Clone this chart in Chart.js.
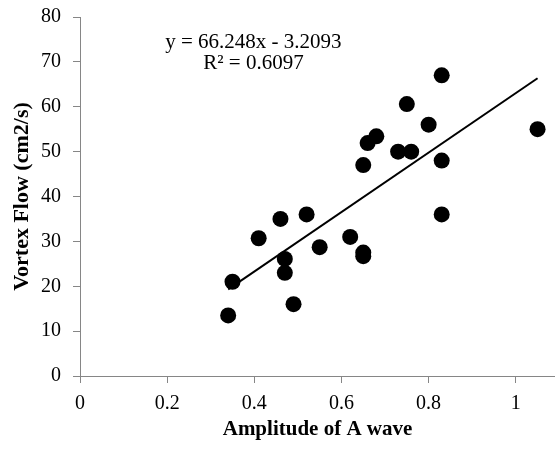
<!DOCTYPE html>
<html>
<head>
<meta charset="utf-8">
<script src="https://cdn.jsdelivr.net/npm/chart.js@4/dist/chart.umd.min.js"></script>
<style>
    html, body { margin: 0; padding: 0; background: #fff; }
</style>
</head>
<body>
<canvas id="vortexChart" width="555" height="449"></canvas>
<script>
// Data
const amplitudeA = [0.34, 0.35, 0.41, 0.46, 0.47, 0.47, 0.49, 0.52, 0.55, 0.62, 0.65, 0.65,
                    0.65, 0.66, 0.68, 0.73, 0.76, 0.75, 0.80, 0.83, 0.83, 0.83, 1.05];
const vortexFlow = [13.5, 21.0, 30.7, 35.0, 26.1, 23.0, 16.0, 36.0, 28.7, 31.0, 27.5, 26.7,
                    47.0, 51.9, 53.4, 50.0, 50.0, 60.6, 56.0, 67.0, 48.0, 36.0, 55.0];

// Linear trendline as printed on the chart
const slope = 66.248;
const intercept = -3.2093;
const equationText = 'y = 66.248x - 3.2093';
const r2Text = 'R\u00B2 = 0.6097';

const fontFamily = "'Liberation Serif', 'Times New Roman', serif";
const axisGrey = '#868686';

// Build point list and trendline ends
const points = amplitudeA.map((x, i) => ({ x: x, y: vortexFlow[i] }));
const xMin = Math.min(...amplitudeA);
const xMax = Math.max(...amplitudeA);
const trendPoints = [
    { x: xMin, y: slope * xMin + intercept },
    { x: xMax, y: slope * xMax + intercept }
];

// Draw the equation text near the top left of the plot
const equationLabel = {
    id: 'equationLabel',
    afterDatasetsDraw(chart) {
        const ctx = chart.ctx;
        const xs = chart.scales.x;
        const ys = chart.scales.y;
        const cx = xs.getPixelForValue(0.398);
        ctx.save();
        ctx.fillStyle = '#000';
        ctx.font = '21px ' + fontFamily;
        ctx.textAlign = 'center';
        ctx.textBaseline = 'middle';
        ctx.fillText(equationText, cx, ys.getPixelForValue(74.3));
        ctx.fillText(r2Text, cx, ys.getPixelForValue(69.6));
        ctx.restore();
    }
};

function initChart() {
    const ctx = document.getElementById('vortexChart').getContext('2d');
    new Chart(ctx, {
        type: 'scatter',
        data: {
            datasets: [{
                label: 'Vortex Flow',
                data: points,
                backgroundColor: '#000',
                borderWidth: 0,
                pointRadius: 8,
                order: 2
            }, {
                type: 'line',
                label: 'Linear trend',
                data: trendPoints,
                borderColor: '#000',
                borderWidth: 2,
                pointRadius: 0,
                fill: false,
                order: 1
            }]
        },
        options: {
            responsive: false,
            animation: false,
            layout: { autoPadding: false, padding: { top: 17, right: 0, bottom: 0, left: 0 } },
            plugins: {
                legend: { display: false },
                tooltip: { enabled: false }
            },
            scales: {
                x: {
                    type: 'linear',
                    min: 0,
                    max: 1.09,
                    border: { color: axisGrey, width: 1 },
                    grid: { drawOnChartArea: false, color: axisGrey, tickLength: 7 },
                    ticks: {
                        stepSize: 0.2,
                        includeBounds: false,
                        maxRotation: 0,
                        color: '#000',
                        padding: 9,
                        font: { family: fontFamily, size: 20 },
                        callback: (value) => String(Math.round(value * 10) / 10)
                    },
                    title: {
                        display: true,
                        text: 'Amplitude of A wave',
                        color: '#000',
                        font: { family: fontFamily, size: 21, weight: 'bold' },
                        padding: { top: 0, bottom: 7 }
                    },
                    afterFit: (scale) => {
                        scale.height = 73;
                        scale.paddingRight = 0;
                        scale.paddingLeft = 0;
                    }
                },
                y: {
                    min: 0,
                    max: 80,
                    border: { color: axisGrey, width: 1 },
                    grid: { drawOnChartArea: false, color: axisGrey, tickLength: 7 },
                    ticks: {
                        stepSize: 10,
                        color: '#000',
                        padding: 12,
                        font: { family: fontFamily, size: 20 }
                    },
                    title: {
                        display: true,
                        text: 'Vortex Flow (cm2/s)',
                        color: '#000',
                        font: { family: fontFamily, size: 22, weight: 'bold' },
                        padding: { top: 9, bottom: 0 }
                    },
                    afterFit: (scale) => {
                        scale.width = 80;
                        scale.paddingTop = 0;
                        scale.paddingBottom = 0;
                    }
                }
            }
        },
        plugins: [equationLabel]
    });
}

document.addEventListener('DOMContentLoaded', () => {
    initChart();
});
</script>
</body>
</html>
